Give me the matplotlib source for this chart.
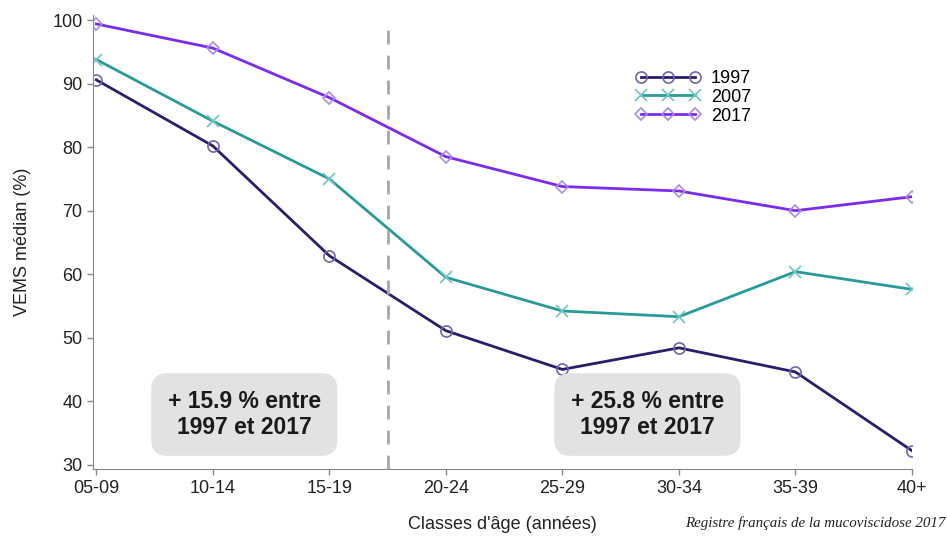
import matplotlib
matplotlib.use('Agg')
import matplotlib.pyplot as plt

plt.rcParams['font.family'] = ['Liberation Sans', 'DejaVu Sans']

# age classes and median FEV1 per year
classes = ['05-09', '10-14', '15-19', '20-24', '25-29', '30-34', '35-39', '40+']
vems_1997 = [90.6, 80.2, 62.9, 51.1, 45.0, 48.4, 44.6, 32.2]
vems_2007 = [93.8, 84.1, 75.0, 59.5, 54.2, 53.3, 60.4, 57.6]
vems_2017 = [99.4, 95.6, 87.8, 78.5, 73.8, 73.1, 70.0, 72.2]
box_texts = ['+ 15.9 % entre\n1997 et 2017', '+ 25.8 % entre\n1997 et 2017']
box_x = [1.27, 4.73]

fig = plt.figure(figsize=(9.47, 5.38), dpi=100)
ax = fig.add_axes([0.098, 0.128, 0.865, 0.844])

x = range(len(classes))
ax.plot(x, vems_1997, color='#2B1D6B', lw=2, marker='o', ms=8,
        mfc='none', mec='#6F66A8', mew=1.2, label='1997')
ax.plot(x, vems_2007, color='#2A9A98', lw=2, marker='x', ms=9,
        mec='#6FC4C2', mew=1.2, label='2007')
ax.plot(x, vems_2017, color='#7B2BEE', lw=2, marker='D', ms=6.5,
        mfc='none', mec='#A98BE8', mew=1.2, label='2017')

ax.axvline(2.5, ymin=0.0, ymax=0.99, color='#A8A8A8', lw=2, ls=(0, (5, 4)))

for bx, t in zip(box_x, box_texts):
    ax.text(bx, 37.9, t, ha='center', va='center', fontsize=16.5,
            fontweight='bold', color='#1a1a1a', linespacing=1.2,
            bbox=dict(boxstyle='round,pad=0.72,rounding_size=0.7',
                      fc='#E1E2E4', ec='none'))

ax.set_xlim(-0.03, 7.0)
ax.set_ylim(29.3, 100.8)
ax.set_xticks(list(x))
ax.set_xticklabels(classes)
ax.set_yticks(range(30, 101, 10))
ax.tick_params(labelsize=13, colors='#888888', labelcolor='#222222',
               length=4, width=1)
for s in ['top', 'right']:
    ax.spines[s].set_visible(False)
for s in ['left', 'bottom']:
    ax.spines[s].set_color('#888888')

ax.set_ylabel('VEMS médian (%)', fontsize=13, color='#222222', labelpad=15)
ax.set_xlabel("Classes d'âge (années)", fontsize=13, color='#222222', labelpad=14)

leg = ax.legend(loc='upper left', bbox_to_anchor=(0.643, 0.915), frameon=False,
                fontsize=13, handlelength=3.6, labelspacing=0.1,
                handletextpad=0.55, numpoints=3)

fig.text(0.998, 0.028, 'Registre français de la mucoviscidose 2017',
         ha='right', va='center', fontsize=10.8, style='italic',
         family=['Liberation Serif', 'DejaVu Serif'], color='#222222')

fig.savefig('out.png', dpi=100)
